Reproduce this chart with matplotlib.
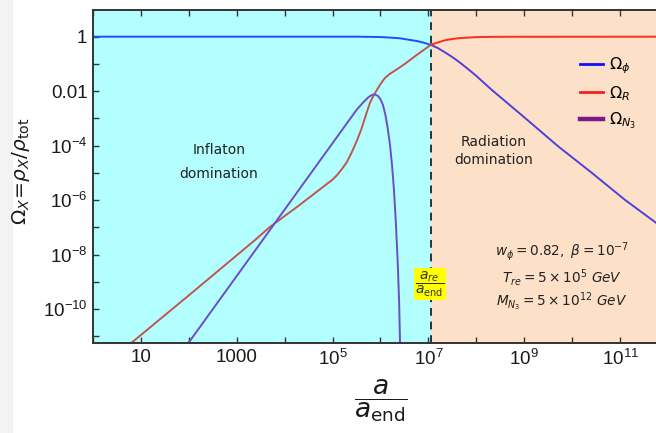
import numpy as np
import matplotlib
matplotlib.use('Agg')
import matplotlib.pyplot as plt
from matplotlib.lines import Line2D
from matplotlib.patches import Rectangle
from matplotlib.ticker import FixedLocator, FixedFormatter, NullFormatter

# energy fractions vs scale factor, stored as log10(a/a_end), log10(Omega)
log_a_phi = [0.0, 5.5, 5.9, 6.09, 6.41, 6.76, 6.9, 7.05, 7.2, 7.35, 7.5, 7.65,
             7.8, 8.0, 8.32, 9.02, 9.71, 10.41, 11.10, 11.8]
log_om_phi = [0.0, 0.0, -0.01, -0.02, -0.06, -0.16, -0.22, -0.30, -0.42, -0.58,
              -0.75, -0.94, -1.15, -1.44, -1.95, -2.99, -4.03, -5.00, -5.99, -6.90]

log_a_rad = [0.75, 2.0, 3.38, 3.69, 4.26, 4.80, 5.0, 5.1, 5.2, 5.3, 5.4, 5.5,
             5.6, 5.7, 5.78, 5.85, 5.92, 6.0, 6.09, 6.2, 6.35, 6.5, 6.75, 7.05,
             7.2, 7.35, 7.5, 7.65, 8.0, 8.5, 11.8]
log_om_rad = [-11.32, -9.5, -7.47, -6.99, -6.25, -5.52, -5.25, -5.07, -4.85,
              -4.60, -4.25, -3.85, -3.40, -2.85, -2.43, -2.18, -1.97, -1.74,
              -1.52, -1.36, -1.19, -1.01, -0.68, -0.30, -0.21, -0.13, -0.085,
              -0.053, -0.015, -0.004, 0.0]

log_a_n3 = [1.95, 5.5, 5.63, 5.75, 5.82, 5.885, 5.95, 6.0, 6.05, 6.10, 6.15,
            6.20, 6.24, 6.28, 6.32, 6.36, 6.39, 6.41]
log_om_n3 = [-11.35, -2.69, -2.43, -2.22, -2.14, -2.12, -2.18, -2.30, -2.50,
             -2.85, -3.35, -4.00, -4.70, -5.60, -6.80, -8.30, -9.80, -11.4]

log_a_re = 7.05

x_major = [1e1, 1e3, 1e5, 1e7, 1e9, 1e11]
x_labels = ['10', '1000', r'$\mathdefault{10^{5}}$', r'$\mathdefault{10^{7}}$',
            r'$\mathdefault{10^{9}}$', r'$\mathdefault{10^{11}}$']
y_major = [1e0, 1e-2, 1e-4, 1e-6, 1e-8, 1e-10]
y_labels = ['1', '0.01', r'$\mathdefault{10^{-4}}$', r'$\mathdefault{10^{-6}}$',
            r'$\mathdefault{10^{-8}}$', r'$\mathdefault{10^{-10}}$']

cyan = '#b3fefe'
peach = '#fde0c8'

plt.rcParams['font.family'] = ['Liberation Sans', 'DejaVu Sans']
plt.rcParams['mathtext.fontset'] = 'dejavusans'

W, H = 656, 433
fig = plt.figure(figsize=(W / 100, H / 100), dpi=100)
fig.patches.append(Rectangle((0, 0), 12 / W, 1, transform=fig.transFigure,
                             color='#f3f3f3', zorder=-1))
ax = fig.add_axes([93 / W, 90 / H, 563 / W, 333 / H])
ax.set_xscale('log')
ax.set_yscale('log')
xmin, xmax = 1.0, 10 ** 11.75
ax.set_xlim(xmin, xmax)
ax.set_ylim(10 ** -11.25, 10 ** 0.98)

a_re = 10 ** log_a_re
ax.axvspan(xmin, a_re, color=cyan, lw=0, zorder=0)
ax.axvspan(a_re, xmax, color=peach, lw=0, zorder=0)


def draw(lx, ly, c_inf, c_rad, lw=1.4):
    lx = np.asarray(lx)
    ly = np.asarray(ly)
    pre = lx <= log_a_re
    post = lx >= log_a_re
    ax.plot(10 ** lx[pre], 10 ** ly[pre], color=c_inf, lw=lw, zorder=2,
            solid_capstyle='butt')
    if post.any():
        ax.plot(10 ** lx[post], 10 ** ly[post], color=c_rad, lw=lw, zorder=2,
                solid_capstyle='butt')


draw(log_a_phi, log_om_phi, '#1f4dff', '#5040d8')
draw(log_a_rad, log_om_rad, '#c0564e', '#ff2b1c')
draw(log_a_n3, log_om_n3, '#6a4fc4', '#6a4fc4')

ax.axvline(a_re, color='#1e3838', ls=(0, (4, 3)), lw=1.4, zorder=3)

# ticks
ax.xaxis.set_major_locator(FixedLocator(x_major))
ax.xaxis.set_major_formatter(FixedFormatter(x_labels))
ax.xaxis.set_minor_locator(FixedLocator([10.0 ** k for k in range(0, 13, 2)]))
ax.xaxis.set_minor_formatter(NullFormatter())
ax.yaxis.set_major_locator(FixedLocator(y_major))
ax.yaxis.set_major_formatter(FixedFormatter(y_labels))
ax.yaxis.set_minor_locator(FixedLocator([10.0 ** k for k in range(-11, 1, 2)]))
ax.yaxis.set_minor_formatter(NullFormatter())
ax.tick_params(which='both', direction='in', top=True, right=False,
               color='#333333', width=1.0, labelsize=13.5, pad=4,
               labelcolor='#1a1a1a', length=4.5)
for side in ['left', 'bottom', 'top']:
    ax.spines[side].set_color('#333333')
    ax.spines[side].set_linewidth(1.4)
ax.spines['right'].set_visible(False)

ax.set_ylabel(r'$\Omega_X\!=\!\rho_X/\rho_{\rm tot}$', fontsize=14.5,
              color='#1a1a1a', va='center')
ax.yaxis.set_label_coords((21 - 93) / 563, (343 - 171) / 333)

fig.text(381 / W, 1 - 401 / H, r'$\dfrac{a}{a_{\rm end}}$', fontsize=19,
         ha='center', va='center', color='#1a1a1a')

# region labels
ax.text(219 / W, 1 - 162 / H, 'Inflaton\ndomination', transform=fig.transFigure,
        ha='center', va='center', fontsize=10, linespacing=2.0,
        family='DejaVu Sans', color='#222222', zorder=4)
ax.text(494 / W, 1 - 151 / H, 'Radiation\ndomination', transform=fig.transFigure,
        ha='center', va='center', fontsize=10, linespacing=1.3,
        family='DejaVu Sans', color='#222222', zorder=4)

params = [r'$w_\phi = 0.82,\ \beta = 10^{-7}$',
          r'$T_{re} = 5\times 10^{5}\ GeV$',
          r'$M_{N_3} = 5\times 10^{12}\ GeV$']
for i, s in enumerate(params):
    ax.text(562 / W, 1 - (252 + 25 * i) / H, s, transform=fig.transFigure,
            ha='center', va='center', fontsize=9.8, color='#222222', zorder=4)

ax.text(430 / W, 1 - 284 / H, r'$\dfrac{a_{re}}{a_{\rm end}}$',
        transform=fig.transFigure, ha='center', va='center', fontsize=10,
        color='#333333', zorder=5,
        bbox=dict(boxstyle='square,pad=0.1', fc='#ffff00', ec='none'))

handles = [Line2D([], [], color='#1010ff', lw=2.0),
           Line2D([], [], color='#ff1a1a', lw=2.0),
           Line2D([], [], color='#7a1a8a', lw=3.2)]
ax.legend(handles, [r'$\Omega_\phi$', r'$\Omega_R$', r'$\Omega_{N_3}$'],
          loc='upper left', bbox_to_anchor=(566 / W, 1 - 41 / H),
          bbox_transform=fig.transFigure, frameon=False, fontsize=11.5,
          handlelength=1.4, handletextpad=0.4, labelspacing=0.5)

fig.savefig('out.png', dpi=100)
